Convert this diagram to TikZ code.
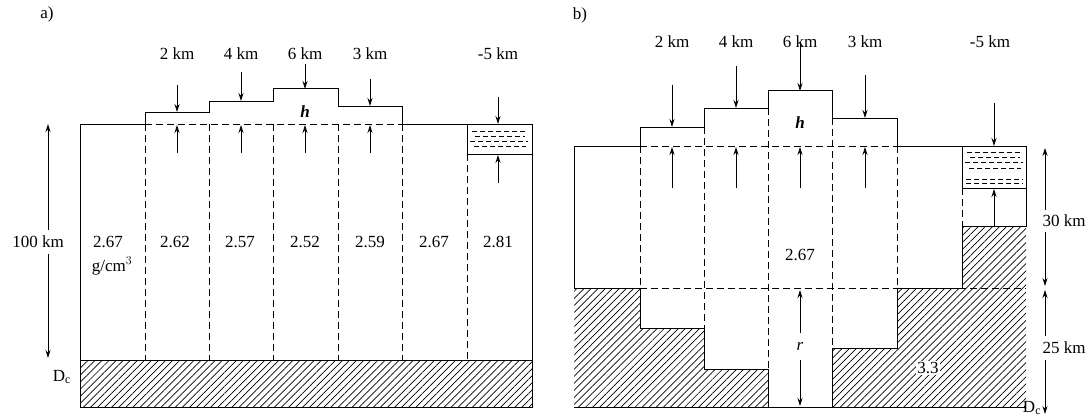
\documentclass[tikz,border=0pt]{standalone}
\usepackage{fontspec}
\setmainfont{Liberation Serif}
\usetikzlibrary{patterns.meta,arrows.meta}
\begin{document}
\begin{tikzpicture}[x=1pt,y=-1pt,line width=1pt,
  lbl/.style={font=\fontsize{17}{19}\selectfont,inner sep=1pt},
  dsh/.style={dashed,dash pattern=on 7pt off 4pt},
  arr/.style={-{Stealth[length=8pt,width=5pt]},line width=0.8pt},
  hat/.style={pattern={Lines[angle=45,distance=5pt,line width=0.7pt]}}]
\useasboundingbox (0,0) rectangle (1090,420);
% ---------- panel a ----------
\node[lbl] (la) at (47,14) {a)};
\fill[hat] (80,360) rectangle (532,407);
\draw (80,360) rectangle (532,407);
\draw (80,360) -- (80,124) -- (145,124) -- (145,112) -- (209,112) -- (209,101) -- (273,101) -- (273,89) -- (338,89) -- (338,106) -- (402,106) -- (402,124) -- (467,124);
\draw (467,124) rectangle (532,154);
\draw (532,154) -- (532,360);
\draw[dsh] (145,124) -- (402,124);
\foreach \x in {145,209,273,338,402} \draw[dsh] (\x,124) -- (\x,360);
\draw[dsh] (467,154) -- (467,360);
\foreach \y/\a/\b in {131/472/527,136/475/525,141/470/528,146/474/526}
  \draw[dashed,line width=0.5pt,dash pattern=on 5pt off 3pt] (\a,\y) -- (\b,\y);
\foreach \x/\t/\yy/\ye in {177/2 km/85/112,241/4 km/72/101,305/6 km/64/89,370/3 km/79/106}{
  \node[lbl] at (\x,54) {\t};
  \draw[arr] (\x,\yy) -- (\x,\ye);
  \draw[arr] (\x,153) -- (\x,125);
}
\node[lbl] at (498,54) {-5 km};
\draw[arr] (498,97) -- (498,124);
\draw[arr] (498,183) -- (498,155);
\node[lbl] at (305,112) {\textit{\textbf{h}}};
\foreach \x/\t in {108/2.67,175/2.62,240/2.57,305/2.52,370/2.59,434/2.67,498/2.81}
  \node[lbl] at (\x,242) {\t};
\node[lbl] at (112,266) {g/cm$^3$};
\node[lbl,fill=white] (hk) at (38,242) {100 km};
\draw[arr] (48,230) -- (48,124);
\draw[arr] (48,254) -- (48,358);
\node[lbl] at (62,377) {D$_\mathrm{c}$};
% ---------- panel b ----------
\node[lbl] (lb) at (580,15) {b)};
\fill[hat] (574,288) -- (640,288) -- (640,328) -- (704,328) -- (704,369) -- (768,369) -- (768,407) -- (574,407) -- cycle;
\fill[hat] (832,407) -- (832,348) -- (897,348) -- (897,288) -- (962,288) -- (962,226) -- (1026,226) -- (1026,407) -- cycle;
\draw (574,288) -- (574,146) -- (640,146) -- (640,127) -- (704,127) -- (704,108) -- (768,108) -- (768,91) -- (832,91) -- (832,118) -- (897,118) -- (897,146) -- (962,146);
\draw (962,146) rectangle (1026,188);
\draw (1026,188) -- (1026,226) -- (962,226) -- (962,288) -- (897,288) -- (897,348) -- (832,348) -- (832,407);
\draw (574,288) -- (640,288) -- (640,328) -- (704,328) -- (704,369) -- (768,369) -- (768,407);
\draw (574,407) -- (1026,407);
\draw[dsh] (640,146) -- (897,146);
\draw[dsh] (574,288) -- (1026,288);
\draw[dsh] (640,146) -- (640,328);
\draw[dsh] (704,127) -- (704,328);
\draw[dsh] (768,108) -- (768,369);
\draw[dsh] (832,118) -- (832,348);
\draw[dsh] (897,146) -- (897,288);
\draw[dsh] (962,188) -- (962,226);
\foreach \y/\a/\b in {152/967/1022,157/970/1020,162/965/1023,168/969/1021,179/966/1023,183/966/1023}
  \draw[dashed,line width=0.5pt,dash pattern=on 5pt off 3pt] (\a,\y) -- (\b,\y);
\foreach \x/\t/\yy/\ye in {672/2 km/85/127,736/4 km/66/108,800/6 km/42/91,865/3 km/75/118}{
  \node[lbl] at (\x,42) {\t};
  \draw[arr] (\x,\yy) -- (\x,\ye);
  \draw[arr] (\x,188) -- (\x,147);
}
\node[lbl] at (990,42) {-5 km};
\draw[arr] (994,103) -- (994,146);
\draw[arr] (994,226) -- (994,189);
\node[lbl] at (800,123) {\textit{\textbf{h}}};
\node[lbl] at (800,255) {2.67};
\node[lbl] at (800,346) {\textit{r}};
\draw[arr] (800,333) -- (800,290);
\draw[arr] (800,360) -- (800,406);
\node[lbl,fill=white] at (928,368) {3.3};
\node[lbl] at (1064,221) {30 km};
\node[lbl] at (1064,348) {25 km};
\draw[arr] (1045,210) -- (1045,148);
\draw[arr] (1045,232) -- (1045,286);
\draw[arr] (1045,336) -- (1045,290);
\draw[arr] (1045,360) -- (1045,414);
\node[lbl] at (1032,408) {D$_\mathrm{c}$};
\end{tikzpicture}
\end{document}
